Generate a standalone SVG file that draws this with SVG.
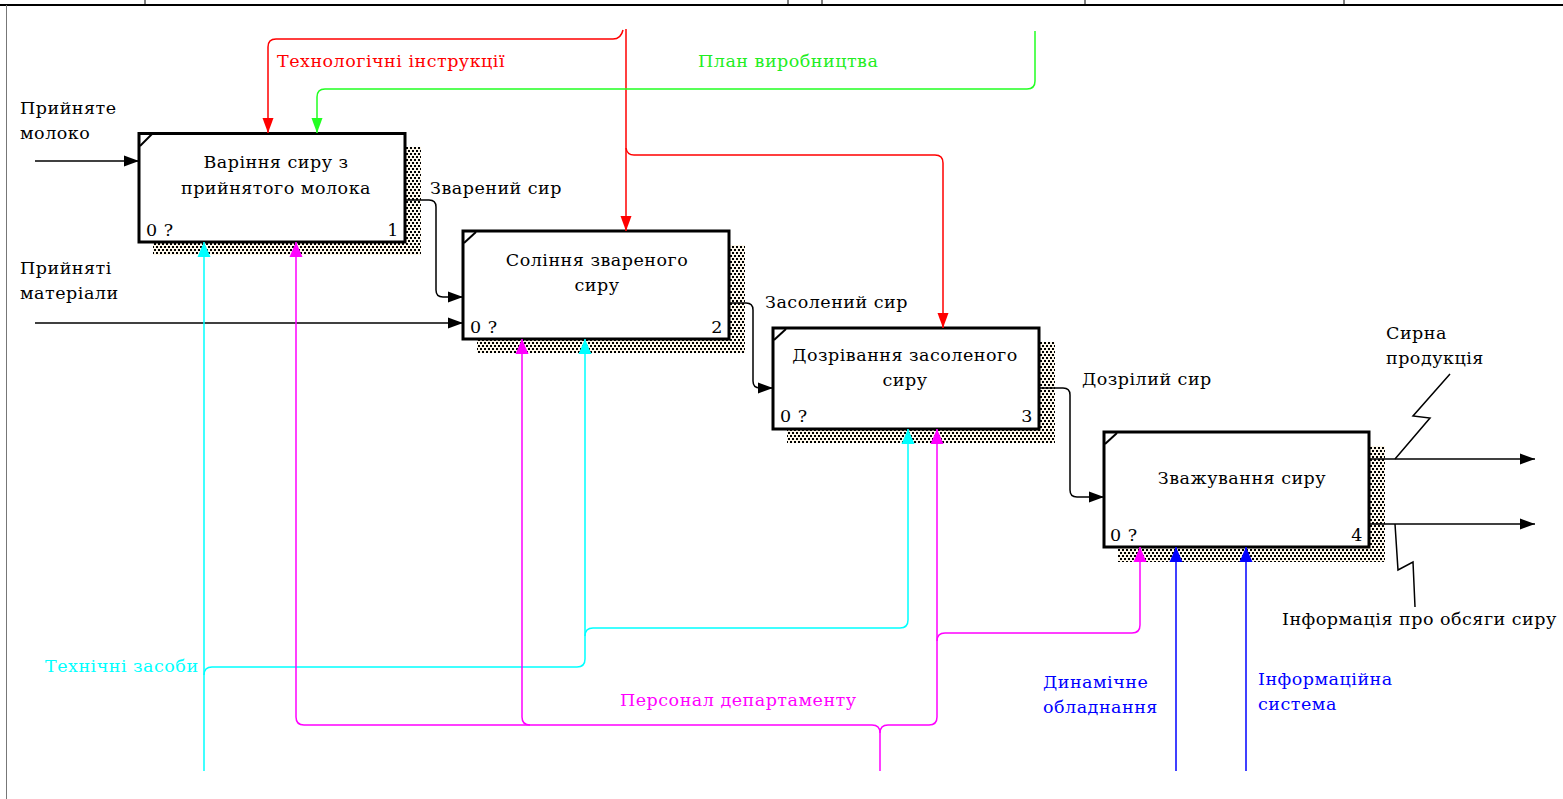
<svg xmlns="http://www.w3.org/2000/svg" width="1563" height="799" viewBox="0 0 1563 799">
<style>
text{font-family:"DejaVu Serif","Liberation Serif",serif;font-size:17.5px;letter-spacing:0.5px;fill:#000}
.box{fill:#fff;stroke:#000;stroke-width:3}
.shadow{fill:url(#chk)}
.ln{fill:none;stroke-width:1.5}
.k{stroke:#000}.r{stroke:#ff0000}.g{stroke:#22ff22}.c{stroke:#00ffff}.m{stroke:#ff00ff}.b{stroke:#0000ff}
.tr{fill:#ff0000}.tg{fill:#22ee22}.tc{fill:#00ffff}.tm{fill:#ff00ff}.tb{fill:#0000ff}
.mid{text-anchor:middle}.end{text-anchor:end}
</style>
<defs>
<pattern id="chk" width="4" height="6" patternUnits="userSpaceOnUse">
<rect width="4" height="6" fill="#fdf7ea"/>
<rect x="0" y="0" width="2" height="2" fill="#000"/>
<rect x="2" y="3" width="2" height="2" fill="#000"/>
</pattern>
<marker id="ak" markerUnits="userSpaceOnUse" markerWidth="16" markerHeight="12" refX="15" refY="6" orient="auto"><path d="M0,0.5L15,6L0,11.5z" fill="#000"/></marker>
<marker id="ar" markerUnits="userSpaceOnUse" markerWidth="16" markerHeight="12" refX="15" refY="6" orient="auto"><path d="M0,0.5L15,6L0,11.5z" fill="#ff0000"/></marker>
<marker id="ag" markerUnits="userSpaceOnUse" markerWidth="16" markerHeight="12" refX="15" refY="6" orient="auto"><path d="M0,0.5L15,6L0,11.5z" fill="#22ff22"/></marker>
<marker id="ac" markerUnits="userSpaceOnUse" markerWidth="16" markerHeight="14" refX="15" refY="7" orient="auto"><path d="M0,0.5L15,7L0,13.5z" fill="#00ffff"/></marker>
<marker id="am" markerUnits="userSpaceOnUse" markerWidth="16" markerHeight="14" refX="15" refY="7" orient="auto"><path d="M0,0.5L15,7L0,13.5z" fill="#ff00ff"/></marker>
<marker id="ab" markerUnits="userSpaceOnUse" markerWidth="16" markerHeight="14" refX="15" refY="7" orient="auto"><path d="M0,0.5L15,7L0,13.5z" fill="#0000ff"/></marker>
</defs>
<rect width="1563" height="799" fill="#fff"/>
<g id="frame" stroke="#000" fill="none">
<line x1="0" y1="5" x2="1563" y2="5" stroke-width="2"/>
<line x1="6.5" y1="5" x2="6.5" y2="799" stroke="#777" stroke-width="1"/>
<line x1="145" y1="0" x2="145" y2="5"/>
<line x1="788" y1="0" x2="788" y2="5"/>
<line x1="822" y1="0" x2="822" y2="5"/>
<line x1="1085" y1="0" x2="1085" y2="5"/>
<line x1="1344" y1="0" x2="1344" y2="5"/>
</g>
<g id="node1">
<rect class="shadow" x="153" y="147" width="268" height="108"/>
<rect class="box" x="139" y="133.5" width="266" height="108.5"/>
<line x1="140" y1="146" x2="152" y2="134" stroke="#000" stroke-width="2"/>
<text class="mid" x="276" y="168">Варіння сиру з</text>
<text class="mid" x="276" y="194">прийнятого молока</text>
<text x="146" y="236">0 ?</text>
<text class="end" x="399" y="236">1</text>
</g>
<g id="node2">
<rect class="shadow" x="477" y="245" width="268" height="108"/>
<rect class="box" x="463" y="231" width="266" height="108"/>
<line x1="464" y1="243" x2="476" y2="232" stroke="#000" stroke-width="2"/>
<text class="mid" x="597" y="266">Соління звареного</text>
<text class="mid" x="597" y="291">сиру</text>
<text x="470" y="333">0 ?</text>
<text class="end" x="723" y="333">2</text>
</g>
<g id="node3">
<rect class="shadow" x="787" y="342" width="268" height="101"/>
<rect class="box" x="773" y="328" width="266" height="101"/>
<line x1="774" y1="340" x2="786" y2="329" stroke="#000" stroke-width="2"/>
<text class="mid" x="905" y="361">Дозрівання засоленого</text>
<text class="mid" x="905" y="386">сиру</text>
<text x="780" y="422">0 ?</text>
<text class="end" x="1033" y="422">3</text>
</g>
<g id="node4">
<rect class="shadow" x="1118" y="446" width="267" height="116"/>
<rect class="box" x="1104" y="432" width="265" height="115"/>
<line x1="1105" y1="444" x2="1117" y2="433" stroke="#000" stroke-width="2"/>
<text class="mid" x="1242" y="484">Зважування сиру</text>
<text x="1110" y="541">0 ?</text>
<text class="end" x="1363" y="541">4</text>
</g>
<g id="connectors">
<path class="ln k" d="M35,161H139" marker-end="url(#ak)"/>
<path class="ln k" d="M35,323H463" marker-end="url(#ak)"/>
<path class="ln k" d="M405,200H429Q436,200 436,207V290Q436,297 443,297H463" marker-end="url(#ak)"/>
<path class="ln k" d="M729,303H746Q753,303 753,310V381Q753,388 760,388H773" marker-end="url(#ak)"/>
<path class="ln k" d="M1039,388H1063Q1070,388 1070,395V490Q1070,497 1077,497H1104" marker-end="url(#ak)"/>
<path class="ln k" d="M1369,459H1535" marker-end="url(#ak)"/>
<path class="ln k" d="M1369,524H1535" marker-end="url(#ak)"/>
<path class="ln k" d="M1395,459L1430,418L1413,416L1450,374"/>
<path class="ln k" d="M1395,524L1398,570L1413,562L1415,607"/>
<path class="ln r" d="M626,29V231" marker-end="url(#ar)"/>
<path class="ln r" d="M623,30Q621,39 613,39H276Q268,39 268,47V133" marker-end="url(#ar)"/>
<path class="ln r" d="M626,148Q627,155 634,155H935Q943,155 943,163V328" marker-end="url(#ar)"/>
<path class="ln g" d="M1035,31V81Q1035,89 1027,89H325Q317,89 317,97V133" marker-end="url(#ag)"/>
<path class="ln c" d="M204,771V242" marker-end="url(#ac)"/>
<path class="ln c" d="M204,675Q204,667 212,667H577Q585,667 585,659V339" marker-end="url(#ac)"/>
<path class="ln c" d="M585,636Q585,628 593,628H900Q908,628 908,620V429" marker-end="url(#ac)"/>
<path class="ln m" d="M880,771V733Q880,725 872,725H304Q296,725 296,717V242" marker-end="url(#am)"/>
<path class="ln m" d="M880,733Q880,725 888,725H929Q937,725 937,717V429" marker-end="url(#am)"/>
<path class="ln m" d="M530,725Q522,725 522,717V339" marker-end="url(#am)"/>
<path class="ln m" d="M937,641Q937,633 945,633H1132Q1140,633 1140,625V547" marker-end="url(#am)"/>
<path class="ln b" d="M1176,771V547" marker-end="url(#ab)"/>
<path class="ln b" d="M1246,771V547" marker-end="url(#ab)"/>
</g>
<g id="labels">
<text x="20" y="114">Прийняте</text>
<text x="20" y="139">молоко</text>
<text x="20" y="274">Прийняті</text>
<text x="20" y="299">матеріали</text>
<text class="tr" x="277" y="67">Технологічні інструкції</text>
<text class="tg" x="698" y="67">План виробництва</text>
<text x="430" y="194">Зварений сир</text>
<text x="765" y="308">Засолений сир</text>
<text x="1082" y="385">Дозрілий сир</text>
<text x="1386" y="339">Сирна</text>
<text x="1386" y="364">продукція</text>
<text x="1282" y="625">Інформація про обсяги сиру</text>
<text class="tc" x="45" y="672">Технічні засоби</text>
<text class="tm" x="620" y="706">Персонал департаменту</text>
<text class="tb" x="1043" y="688">Динамічне</text>
<text class="tb" x="1043" y="713">обладнання</text>
<text class="tb" x="1258" y="685">Інформаційна</text>
<text class="tb" x="1258" y="710">система</text>
</g>
</svg>
